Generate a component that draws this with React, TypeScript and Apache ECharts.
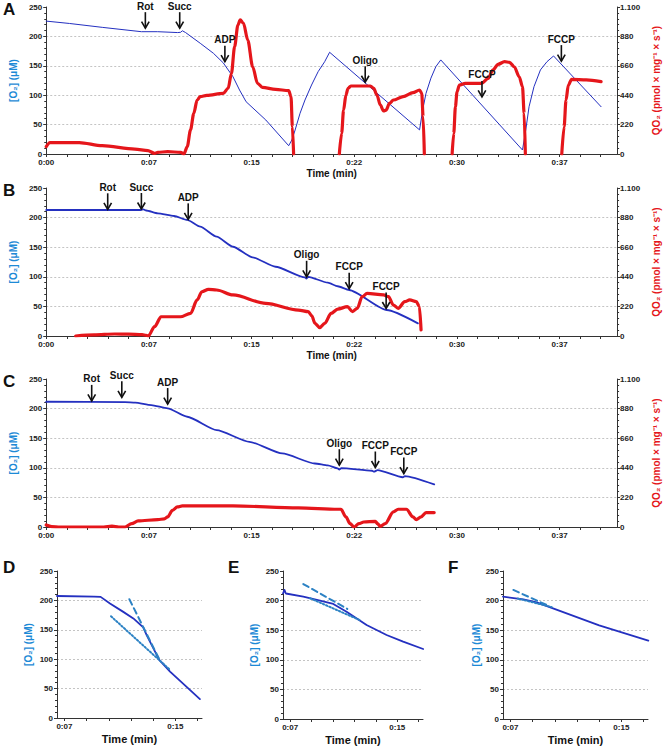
import React, { useEffect, useRef } from "react";
import * as echarts from "echarts";

// ---------- data (time in minutes) ----------
const X_MAIN_TICKS = [0, 1.5, 3, 4.5, 6, 7.5, 9, 10.5, 12, 13.5, 15, 16.5, 18, 19.5, 21, 22.5, 24, 25.5, 27, 28.5, 30, 31.5, 33, 34.5, 36, 37.5, 39, 40.5];
const X_MAIN_LABELS = [0, 7.5, 15, 22.5, 30, 37.5];
const X_ZOOM_TICKS = [7.5, 9, 10.5, 12, 13.5, 15, 16.5];
const X_ZOOM_LABELS = [7.5, 15];

// Panel A
const A_O2 = [
  [0, 226], [1.69, 222], [4.09, 215.4], [6.95, 208], [8.14, 208], [9.6, 206.5], [9.82, 207], [9.94, 209.6], [10.18, 206.5],
  [11.25, 188.3], [12.21, 171.3], [12.93, 155], [13.64, 131.5], [14.12, 108.8], [14.6, 88.9], [16.04, 57.8], [17.71, 14.1],
  [17.94, 23.8], [18.18, 40.8], [18.54, 69.2], [18.9, 91.8], [19.38, 117.3], [19.86, 140], [20.34, 157], [20.7, 173],
  [27.27, 41], [27.5, 75], [27.74, 103], [28.1, 129], [28.46, 148.5], [28.82, 160],
  [34.79, 6.8], [35.03, 40.8], [35.27, 80.4], [35.63, 114.5], [36.1, 143], [36.58, 157], [37.06, 166.7], [40.53, 80.4],
];
const A_QO2_SEGMENTS = [
  [[0, 55], [0.27, 85], [2.41, 85], [4.09, 62], [6.47, 37], [7.43, 25], [7.91, 5], [8.15, 12], [8.87, 17.5], [9.82, 12.5], [10.06, 0],
   [10.3, 55], [10.54, 180], [10.78, 305], [11.02, 404], [11.25, 429], [11.73, 439], [12.93, 454], [13.29, 492], [13.53, 604],
   [13.76, 803], [14.0, 965], [14.17, 1003], [14.41, 978], [14.72, 853], [15.08, 653], [15.43, 529], [15.79, 499], [16.75, 484],
   [17.71, 474], [17.88, 429], [17.98, 204], [18.07, 0]],
  [[21.41, 0], [21.58, 155], [21.72, 329], [21.89, 441], [22.05, 492], [22.25, 509], [23.68, 509], [23.92, 492], [24.16, 441],
   [24.4, 367], [24.64, 322], [24.83, 329], [25.07, 379], [25.36, 404], [26.07, 429], [26.79, 459], [27.27, 479], [27.43, 454],
   [27.53, 279], [27.62, 0]],
  [[29.65, 0], [29.77, 155], [29.89, 354], [30.01, 466], [30.18, 516], [30.61, 529], [31.8, 529], [32.28, 566], [32.64, 629],
   [33.0, 671], [33.48, 691], [33.84, 686], [34.19, 653], [34.55, 578], [34.79, 504], [34.91, 305], [35.0, 0]],
  [[37.66, 0], [37.83, 204], [37.97, 404], [38.14, 516], [38.38, 559], [39.45, 554], [40.53, 541]],
];
const A_MARK_T = [7.24, 9.75, 13.05, 23.3, 31.83, 37.63];
const A_MARK_O2 = [214, 214, 157, 122, 97, 158];
const A_MARK_TEXT = ["Rot", "Succ", "ADP", "Oligo", "FCCP", "FCCP"];

// Panel B
const B_O2 = [
  [0, 212.8], [6.9, 212.8], [7.1, 213.8], [7.3, 212], [8.15, 207], [9.34, 202.7], [10.3, 196], [11.25, 184.6], [12.45, 167.7],
  [13.64, 150.8], [15.07, 132.9], [16.75, 117], [18.9, 99], [19.0, 97], [19.15, 100], [20.57, 90], [21.29, 84], [22.13, 77.7],
  [24.87, 43.9], [27.15, 21.4],
];
const B_QO2 = [
  [2.15, 0], [3.5, 8], [5.0, 15], [6.0, 14], [7.0, 10], [7.3, 5], [7.45, 0], [7.91, 69], [8.39, 143], [9.8, 143], [10.54, 168],
  [11.02, 268], [11.37, 329], [11.85, 347], [12.45, 342], [13.64, 305], [16.03, 243], [18.42, 193], [19.14, 181], [19.4, 150],
  [19.63, 94], [19.98, 62], [20.34, 94], [20.81, 168], [21.29, 200], [22.0, 218], [22.37, 181], [22.72, 206], [23.08, 292],
  [23.44, 317], [24.64, 305], [25.0, 292], [25.36, 230], [25.71, 206], [26.19, 255], [26.55, 268], [27.03, 255], [27.26, 218],
  [27.38, 45],
];
const B_MARK_T = [4.49, 6.95, 10.37, 19.02, 22.13, 24.83];
const B_MARK_O2 = [214, 214.5, 197, 100, 80, 46.5];
const B_MARK_TEXT = ["Rot", "Succ", "ADP", "Oligo", "FCCP", "FCCP"];

// Panel C
const C_O2 = [
  [0, 211.6], [5.76, 211], [6.5, 210], [7.67, 206], [8.87, 200.4], [10.3, 186.2], [12.45, 163.7], [14.84, 143.9], [17.24, 124.2],
  [19.62, 107.3], [20.57, 104], [21.29, 99], [21.41, 97], [21.55, 99.5], [23.8, 95], [23.95, 93.5], [24.2, 96], [26.05, 84],
  [26.2, 86], [28.34, 72],
];
const C_QO2 = [
  [0, 15], [0.4, 3], [1, 0], [4.2, 0], [4.8, 6], [5.3, 0], [5.76, 0], [6.24, 25], [6.71, 45], [8.15, 55], [8.63, 60], [8.87, 75],
  [9.22, 124], [9.58, 149], [9.94, 157], [13.64, 157], [18.42, 142], [21.29, 132], [21.53, 132], [21.89, 75], [22.2, 25],
  [22.48, 0], [22.84, 25], [23.2, 37], [24.04, 42], [24.2, 25], [24.4, 5], [24.76, 25], [25.36, 112], [25.71, 132], [26.31, 132],
  [26.79, 75], [27.03, 55], [27.38, 75], [27.74, 107], [28.34, 107],
];
const C_MARK_T = [3.32, 5.52, 8.87, 21.41, 24.04, 26.12];
const C_MARK_O2 = [213, 219, 207.7, 104.4, 100.5, 90.3];
const C_MARK_TEXT = ["Rot", "Succ", "ADP", "Oligo", "FCCP", "FCCP"];

// Panel D
const D_O2 = [
  [7.0, 207.5], [9.5, 206.5], [9.95, 206], [10.58, 194.8], [11.48, 180.5], [12.16, 169.4], [12.83, 154.1], [13.06, 141.1],
  [13.91, 98.8], [14.64, 79], [16.66, 32.2],
];
const D_DASHED = [[11.89, 202], [13.95, 98]];
const D_DOTTED = [[10.65, 173], [14.59, 83]];

// Panel E
const E_O2 = [
  [7.0, 212], [7.1, 218], [7.2, 212], [8.42, 206.6], [9.59, 199.8], [10.52, 194.3], [11.45, 181.2], [12.85, 158.8],
  [14.25, 141.9], [15.41, 130.6], [16.81, 118.2],
];
const E_DASHED = [[8.42, 228], [11.5, 186]];
const E_DOTTED = [[8.89, 204], [12.38, 167]];

// Panel F
const F_O2 = [[7.0, 206.6], [8.37, 202.2], [9.28, 197], [13.5, 158], [16.82, 132.3]];
const F_DASHED = [[7.7, 218], [9.95, 192.6]];
const F_DOTTED = [[8.0, 203.5], [10.3, 189]];

// ---------- styles ----------
const FONT = "Arial, 'Liberation Sans', Helvetica, sans-serif";
const BLUE_NAME = "#1d8ad6";
const RED = "#e5161b";
const LINE_BLUE = "#2430c0";
const FIT_BLUE = "#2c82c4";
const AXIS = "#333";

function joinSegments(segs: number[][][]) {
  const out: any[] = [];
  segs.forEach((s, i) => {
    if (i > 0) {
      const prev = segs[i - 1];
      out.push([(prev[prev.length - 1][0] + s[0][0]) / 2, "-"]);
    }
    out.push(...s);
  });
  return out;
}

const timeFmt = (v: number) => "0:" + String(Math.floor(v + 1e-6)).padStart(2, "0");

function xAxisMain(grid: number, withName: boolean) {
  return {
    type: "value", gridIndex: grid, min: 0, max: 41.7,
    name: withName ? "Time (min)" : "", nameLocation: "middle", nameGap: 14,
    nameTextStyle: { fontFamily: FONT, fontWeight: "bold", fontSize: 10, color: "#111" },
    axisLine: { show: true, onZero: false, lineStyle: { color: AXIS, width: 1 } },
    axisTick: { show: true, length: 3, customValues: X_MAIN_TICKS, lineStyle: { color: AXIS } },
    axisLabel: { customValues: X_MAIN_LABELS, formatter: timeFmt, fontFamily: FONT, fontWeight: "bold", fontSize: 8, color: "#222", margin: 4 },
    splitLine: { show: false },
  };
}
function xAxisZoom(grid: number) {
  return {
    type: "value", gridIndex: grid, min: 7.0, max: 16.8,
    name: "Time (min)", nameLocation: "middle", nameGap: 15,
    nameTextStyle: { fontFamily: FONT, fontWeight: "bold", fontSize: 11, color: "#111" },
    axisLine: { show: true, onZero: false, lineStyle: { color: AXIS, width: 1 } },
    axisTick: { show: true, length: 3, customValues: X_ZOOM_TICKS, lineStyle: { color: AXIS } },
    axisLabel: { customValues: X_ZOOM_LABELS, formatter: timeFmt, fontFamily: FONT, fontWeight: "bold", fontSize: 8, color: "#222", margin: 4 },
    splitLine: { show: false },
  };
}
function yAxisO2(grid: number, gap: number) {
  return {
    type: "value", gridIndex: grid, min: 0, max: 250, interval: 50, position: "left",
    name: "[O₂] (μM)", nameLocation: "middle", nameGap: gap,
    nameTextStyle: { fontFamily: FONT, fontWeight: "bold", fontSize: 10, color: BLUE_NAME },
    axisLine: { show: true, lineStyle: { color: AXIS, width: 1 } },
    axisTick: { show: true, length: 3, lineStyle: { color: AXIS } },
    minorTick: { show: true, splitNumber: 5, length: 2, lineStyle: { color: AXIS } },
    axisLabel: { fontFamily: FONT, fontWeight: "bold", fontSize: 8, color: "#222", margin: 4 },
    splitLine: { show: true, showMaxLine: false, showMinLine: false, lineStyle: { color: "#c4c4c4", type: [2, 2], width: 1 } },
  };
}
function yAxisQO2(grid: number) {
  return {
    type: "value", gridIndex: grid, min: 0, max: 1100, interval: 220, position: "right",
    name: "QO₂ (pmol × mg⁻¹ × s⁻¹)", nameLocation: "middle", nameGap: 32,
    nameTextStyle: { fontFamily: FONT, fontWeight: "bold", fontSize: 10, color: RED },
    axisLine: { show: true, lineStyle: { color: AXIS, width: 1 } },
    axisTick: { show: true, length: 3, lineStyle: { color: AXIS } },
    minorTick: { show: true, splitNumber: 5, length: 2, lineStyle: { color: AXIS } },
    axisLabel: {
      fontFamily: FONT, fontWeight: "bold", fontSize: 8, color: "#222", margin: 3,
      formatter: (v: number) => (v >= 1000 ? Math.floor(v / 1000) + "." + String(v % 1000).padStart(3, "0") : String(v)),
    },
    splitLine: { show: false },
  };
}

function lineSeries(data: any[], xi: number, yi: number, color: string, width: number, type: any = "solid", z = 2, smooth: any = 0.2) {
  return {
    type: "line", xAxisIndex: xi, yAxisIndex: yi, data, showSymbol: false, symbol: "none",
    smooth, smoothMonotone: "x", connectNulls: false, z,
    lineStyle: { color, width, type, cap: "round", join: "round" },
    emphasis: { disabled: true }, silent: true,
  };
}

function markSeries(ts: number[], vs: number[], texts: string[], xi: number, yi: number) {
  return {
    type: "custom", xAxisIndex: xi, yAxisIndex: yi, z: 10, silent: true, clip: false,
    data: ts.map((t, i) => [t, vs[i]]),
    renderItem: (params: any, api: any) => {
      const p = api.coord([api.value(0), api.value(1)]);
      const x = p[0], y = p[1];
      return {
        type: "group",
        children: [
          { type: "line", shape: { x1: x, y1: y - 16, x2: x, y2: y }, style: { stroke: "#111", lineWidth: 1.6 } },
          { type: "polyline", shape: { points: [[x - 3.8, y - 6.5], [x, y], [x + 3.8, y - 6.5]] }, style: { stroke: "#111", lineWidth: 1.6, fill: null } },
          { type: "text", x, y: y - 22, style: { text: texts[params.dataIndex], fontFamily: FONT, fontWeight: "bold", fontSize: 10, fill: "#111", align: "center", verticalAlign: "middle" } },
        ],
      };
    },
  };
}

function letter(t: string, left: number, top: number) {
  return { type: "text", left, top, style: { text: t, fontFamily: FONT, fontWeight: "bold", fontSize: 17, fill: "#111" } };
}

export default function App() {
  const ref = useRef<HTMLDivElement>(null);
  useEffect(() => {
    if (!ref.current) return;
    const chart = echarts.init(ref.current, null, { renderer: "svg" });
    const option: any = {
      animation: false,
      backgroundColor: "#fff",
      grid: [
        { left: 43, width: 582, top: 7, height: 147 },
        { left: 43, width: 582, top: 188, height: 148 },
        { left: 43, width: 582, top: 379, height: 148 },
        { left: 57, width: 145, top: 571, height: 147 },
        { left: 283, width: 140, top: 571, height: 148 },
        { left: 503, width: 145, top: 571, height: 148 },
      ],
      xAxis: [xAxisMain(0, true), xAxisMain(1, true), xAxisMain(2, false), xAxisZoom(3), xAxisZoom(4), xAxisZoom(5)],
      yAxis: [
        yAxisO2(0, 18), yAxisQO2(0),
        yAxisO2(1, 18), yAxisQO2(1),
        yAxisO2(2, 18), yAxisQO2(2),
        yAxisO2(3, 24), yAxisO2(4, 24), yAxisO2(5, 22),
      ],
      series: [
        lineSeries(A_O2, 0, 0, LINE_BLUE, 1, "solid", 2, false),
        lineSeries(joinSegments(A_QO2_SEGMENTS), 0, 1, RED, 3.2, "solid", 3, 0.3),
        markSeries(A_MARK_T, A_MARK_O2, A_MARK_TEXT, 0, 0),

        lineSeries(B_O2, 1, 2, LINE_BLUE, 1.8, "solid", 2, 0.2),
        lineSeries(B_QO2, 1, 3, RED, 3.2, "solid", 3, 0.3),
        markSeries(B_MARK_T, B_MARK_O2, B_MARK_TEXT, 1, 2),

        lineSeries(C_O2, 2, 4, LINE_BLUE, 1.8, "solid", 2, 0.2),
        lineSeries(C_QO2, 2, 5, RED, 3.2, "solid", 3, 0.3),
        markSeries(C_MARK_T, C_MARK_O2, C_MARK_TEXT, 2, 4),

        lineSeries(D_O2, 3, 6, LINE_BLUE, 1.8, "solid", 2, false),
        lineSeries(D_DASHED, 3, 6, FIT_BLUE, 2, [6, 4], 3, false),
        lineSeries(D_DOTTED, 3, 6, FIT_BLUE, 2, [1.5, 2], 3, false),

        lineSeries(E_O2, 4, 7, LINE_BLUE, 1.8, "solid", 2, false),
        lineSeries(E_DASHED, 4, 7, FIT_BLUE, 2, [6, 4], 3, false),
        lineSeries(E_DOTTED, 4, 7, FIT_BLUE, 2, [1.5, 2], 3, false),

        lineSeries(F_O2, 5, 8, LINE_BLUE, 1.8, "solid", 2, false),
        lineSeries(F_DASHED, 5, 8, FIT_BLUE, 2, [6, 4], 3, false),
        lineSeries(F_DOTTED, 5, 8, FIT_BLUE, 2, [1.5, 2], 3, false),
      ],
      graphic: [
        letter("A", 3, 1), letter("B", 3, 182), letter("C", 3, 373),
        letter("D", 3, 559), letter("E", 228, 559), letter("F", 448, 559),
      ],
    };
    chart.setOption(option);
    return () => chart.dispose();
  }, []);
  return (
    <div
      ref={ref}
      style={{ position: "absolute", left: 0, top: 0, width: 669, height: 752, background: "#fff" }}
    />
  );
}
